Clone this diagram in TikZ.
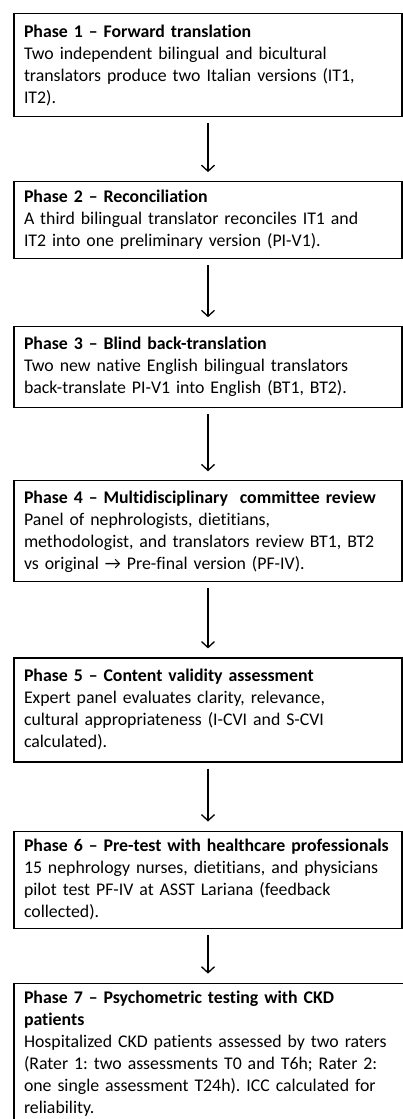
\documentclass[tikz,border=0pt]{standalone}
\usepackage{fontspec}
\setmainfont{Carlito}[Ligatures=NoCommon]
\frenchspacing
\usetikzlibrary{arrows.meta,positioning}

\begin{document}
\begin{tikzpicture}[
    x=1pt, y=1pt,
    node distance=64pt,
    phase/.style={rectangle, draw, line width=1.1pt, text width=368pt, inner xsep=10pt, inner ysep=8pt, align=left, font=\fontsize{17.8}{22}\selectfont},
    arrow/.style={-{Straight Barb[length=6pt,width=13pt]}, line width=1.3pt, shorten <=6pt, shorten >=9pt}
]
  \useasboundingbox (0,0) rectangle (403,-1119);

  % Phases 1--3
  \node[phase, anchor=north, minimum height=103pt] (forward) at (208,-13) {\textbf{Phase 1 – Forward translation}\\Two independent bilingual and bicultural\\translators produce two Italian versions (IT1,\\IT2).};
  \node[phase, minimum height=77pt, below=64pt of forward] (reconcile) {\textbf{Phase 2 – Reconciliation}\\A third bilingual translator reconciles IT1 and\\IT2 into one preliminary version (PI-V1).};
  \node[phase, minimum height=81pt, below=67pt of reconcile] (backtrans) {\textbf{Phase 3 – Blind back-translation}\\Two new native English bilingual translators\\back-translate PI-V1 into English (BT1, BT2).};

  % Phases 4--6
  \node[phase, minimum height=101pt, below=72pt of backtrans] (committee) {\textbf{Phase 4 – Multidisciplinary\ \ committee review}\\Panel of nephrologists, dietitians,\\methodologist, and translators review BT1, BT2\\vs original → Pre-final version (PF-IV).};
  \node[phase, minimum height=104pt, below=75pt of committee] (validity) {\textbf{Phase 5 – Content validity assessment}\\Expert panel evaluates clarity, relevance,\\cultural appropriateness (I-CVI and S-CVI\\calculated).};
  \node[phase, minimum height=97pt, below=68pt of validity] (pretest) {\textbf{Phase 6 – Pre-test with healthcare professionals}\\15 nephrology nurses, dietitians, and physicians\\pilot test PF-IV at ASST Lariana (feedback\\collected).};

  % Phase 7 (runs off the page)
  \node[phase, text width=376pt, below=54pt of pretest, xshift=4pt] (psychometric) {\textbf{Phase 7 – Psychometric testing with CKD}\\\textbf{patients}\\Hospitalized CKD patients assessed by two raters\\(Rater 1: two assessments T0 and T6h; Rater 2:\\one single assessment T24h). ICC calculated for\\reliability.\rule[-25pt]{0pt}{25pt}};

  % Arrows
  \draw[arrow] (forward) -- (reconcile);
  \draw[arrow] (reconcile) -- (backtrans);
  \draw[arrow] (backtrans) -- (committee);
  \draw[arrow] (committee) -- (validity);
  \draw[arrow] (validity) -- (pretest);
  \draw[arrow] (pretest.south) -- (pretest.south |- psychometric.north);
\end{tikzpicture}
\end{document}
